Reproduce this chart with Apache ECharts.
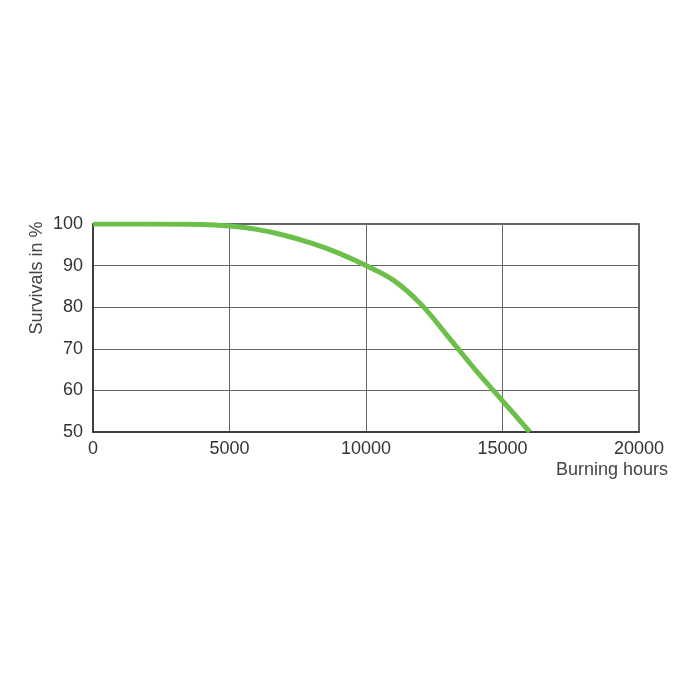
<!DOCTYPE html>
<html>
<head>
<meta charset="utf-8">
<script src="https://cdn.jsdelivr.net/npm/echarts@6/dist/echarts.min.js"></script>
<style>
  html, body { margin: 0; padding: 0; background: #fff; }
  #chart { width: 700px; height: 700px; }
</style>
</head>
<body>
<div id="chart"></div>
<script>
// burning hours vs survival rate
var hours = [0, 2000, 4000, 5000, 6000, 7000, 8000, 9000, 10000, 11000, 12000, 13000, 14000, 15000, 16000];
var survivals = [100, 100, 99.9, 99.5, 98.7, 97.3, 95.4, 93, 90, 86.5, 80.8, 73, 65, 57.5, 50];

var xTicks = [0, 5000, 10000, 15000, 20000];
var yTicks = [50, 60, 70, 80, 90, 100];

var myChart = echarts.init(document.getElementById('chart'));

var points = hours.map(function (h, i) { return [h, survivals[i]]; });
var font = 'Liberation Sans, Arial, sans-serif';

var option = {
    animation: false,
    grid: {
        left: 93, top: 224, width: 546, height: 208,
        show: true, borderColor: '#333', borderWidth: 1.5
    },
    xAxis: {
        type: 'value',
        min: xTicks[0], max: xTicks[xTicks.length - 1], interval: 5000,
        axisLine: { show: true, lineStyle: { color: '#333', width: 1.5 } },
        axisTick: { show: false },
        axisLabel: {
            color: '#333', fontSize: 18, fontFamily: font, margin: 8,
            formatter: function (v) { return String(v); }
        },
        splitLine: { show: true, lineStyle: { color: '#666', width: 1 } }
    },
    yAxis: {
        type: 'value',
        min: yTicks[0], max: yTicks[yTicks.length - 1], interval: 10,
        axisLine: { show: true, lineStyle: { color: '#333', width: 1.5 } },
        axisTick: { show: false },
        axisLabel: { color: '#333', fontSize: 18, fontFamily: font, margin: 10 },
        splitLine: { show: true, lineStyle: { color: '#666', width: 1 } }
    },
    graphic: [
        {
            type: 'text', x: 37, y: 278, rotation: Math.PI / 2,
            style: { text: 'Survivals in %', fill: '#444', fontSize: 18, fontFamily: font,
                     textAlign: 'center', textVerticalAlign: 'middle' }
        },
        {
            type: 'text', x: 668, y: 470,
            style: { text: 'Burning hours', fill: '#444', fontSize: 18, fontFamily: font,
                     textAlign: 'right', textVerticalAlign: 'middle' }
        }
    ],
    series: [{
        type: 'line',
        data: points,
        smooth: 0.4,
        showSymbol: false,
        lineStyle: { color: '#6cc04a', width: 5 }
    }]
};

myChart.setOption(option);
</script>
</body>
</html>
